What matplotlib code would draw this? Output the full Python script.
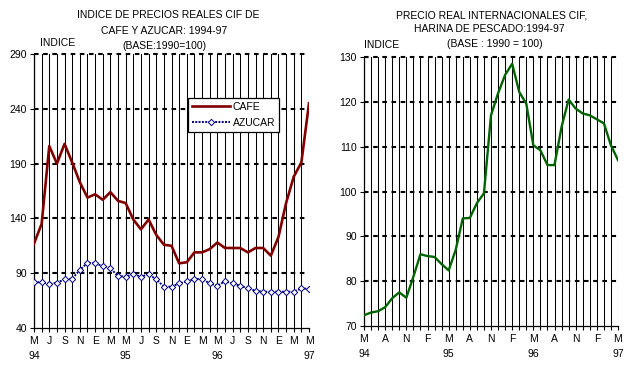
import matplotlib
matplotlib.use("Agg")
import matplotlib.pyplot as plt
import numpy as np

plt.rcParams['font.family'] = ['Liberation Sans', 'DejaVu Sans']

# ---- data (monthly, May 1994 .. May 1997) ----
cafe = [117, 135, 206, 190, 208, 191, 173, 159, 162, 157, 164, 156, 154, 139, 130, 139,
        125, 116, 115, 99, 100, 109, 109, 112, 118, 113, 113, 113, 109, 113, 113, 106,
        123, 154, 178, 191, 245]
azucar = [81.7, 81.7, 80.1, 81.3, 84.4, 85.0, 92.9, 99.6, 99.0, 96.5, 94.4, 87.4, 86.8,
          89.2, 86.8, 89.0, 84.4, 77.7, 77.7, 80.7, 82.6, 84.7, 84.7, 80.7, 78.6, 82.6,
          80.7, 78.6, 76.2, 74.0, 73.1, 73.1, 73.1, 73.1, 73.1, 76.2, 75.6]
harina = [72.4, 73.0, 73.3, 74.2, 76.2, 77.5, 76.3, 81.0, 86.0, 85.6, 85.4, 83.8, 82.4,
          87.0, 94.0, 94.1, 97.4, 99.6, 117.0, 121.9, 126.0, 128.5, 122.2, 119.6, 110.3,
          109.2, 105.9, 105.9, 114.4, 120.5, 118.5, 117.4, 117.0, 116.1, 115.2, 110.3, 107.0]

left_xlabels = ["M\n94", "J", "S", "N", "E", "M", "M\n95", "J", "S", "N", "E", "M",
                "M\n96", "J", "S", "N", "E", "M", "M\n97"]
right_xlabels = ["M\n94", "A", "N", "F", "M\n95", "A", "N", "F", "M\n96", "A", "N", "F", "M\n97"]
left_yticks = [40, 90, 140, 190, 240, 290]
right_yticks = [70, 80, 90, 100, 110, 120, 130]

months = np.arange(len(cafe))

fig = plt.figure(figsize=(6.4, 3.71), dpi=100)
FS = 7.5


def style(ax, step, labels, yticks):
    ax.set_xlim(0, len(months) - 1)
    ax.set_ylim(yticks[0], yticks[-1])
    ax.set_xticks(np.arange(0, len(months), step))
    ax.set_xticklabels(labels, fontsize=FS, linespacing=1.55)
    ax.set_xticks(months, minor=True)
    ax.set_yticks(yticks)
    ax.set_yticklabels([str(v) for v in yticks], fontsize=FS)
    for s in ['top', 'right']:
        ax.spines[s].set_visible(False)
    for s in ['left', 'bottom']:
        ax.spines[s].set_linewidth(0.9)
        ax.spines[s].set_color('black')
    ax.tick_params(axis='x', which='both', direction='out', length=3, width=0.8, pad=3)
    ax.tick_params(axis='y', direction='out', length=3, width=0.8, pad=2)
    for m in months:
        ax.axvline(m, color='black', lw=0.75, zorder=1)
    for y in yticks[1:]:
        ax.axhline(y, color='black', lw=1.5, ls=(0, (2.2, 2.2)), zorder=1, clip_on=False)


# ---- left chart ----
ax1 = fig.add_axes([34 / 640, 1 - 328 / 371, 275 / 640, 274 / 371])
style(ax1, 2, left_xlabels, left_yticks)
ax1.plot(months, cafe, color='#800000', lw=1.9, zorder=3, label='CAFE')
ax1.plot(months, azucar, color='#000080', lw=1.4, ls=(0, (1, 0.7)), marker='D', ms=3.2,
         mfc='white', mec='#000080', mew=0.7, zorder=3, label='AZUCAR')
leg = ax1.legend(loc='upper left', bbox_to_anchor=(0.56, 0.84), fontsize=FS,
                 frameon=True, fancybox=False, edgecolor='black', framealpha=1,
                 handlelength=3.6, borderpad=0.4, labelspacing=0.55, handletextpad=0.3,
                 borderaxespad=0)
leg.get_frame().set_linewidth(0.9)
leg.set_zorder(5)

fig.text(168 / 640, 1 - 15 / 371, "INDICE DE PRECIOS REALES CIF DE", ha='center', va='center', fontsize=FS)
fig.text(164 / 640, 1 - 31 / 371, "CAFE Y AZUCAR: 1994-97", ha='center', va='center', fontsize=FS)
fig.text(164 / 640, 1 - 46 / 371, "(BASE:1990=100)", ha='center', va='center', fontsize=FS)
fig.text(58 / 640, 1 - 43 / 371, "INDICE", ha='center', va='center', fontsize=FS)

# ---- right chart ----
ax2 = fig.add_axes([364 / 640, 1 - 326 / 371, 254 / 640, 269 / 371])
style(ax2, 3, right_xlabels, right_yticks)
ax2.plot(months, harina, color='#006400', lw=1.7, zorder=3)

fig.text(492 / 640, 1 - 15 / 371, "PRECIO REAL INTERNACIONALES CIF,", ha='center', va='center', fontsize=FS)
fig.text(489 / 640, 1 - 29 / 371, "HARINA DE PESCADO:1994-97", ha='center', va='center', fontsize=FS)
fig.text(495 / 640, 1 - 44 / 371, "(BASE : 1990 = 100)", ha='center', va='center', fontsize=FS)
fig.text(382 / 640, 1 - 45 / 371, "INDICE", ha='center', va='center', fontsize=FS)

fig.savefig("out.png", dpi=100)
